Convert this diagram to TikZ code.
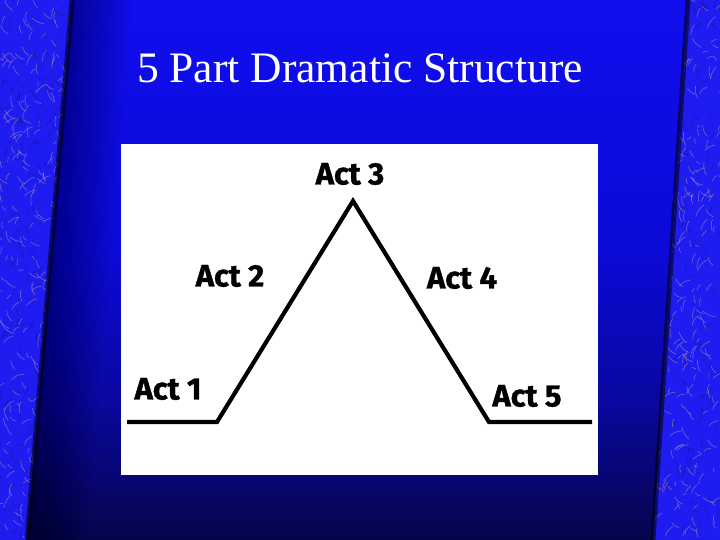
\documentclass[tikz,border=0pt]{standalone}
\usepackage{fontspec}
\setmainfont{Liberation Serif}
\newfontfamily\actfont[FakeBold=1.2]{Fira Sans}
\definecolor{bgtop}{RGB}{16,14,238}
\definecolor{bgmid}{RGB}{12,10,215}
\definecolor{bglow}{RGB}{10,8,160}
\definecolor{bgbot}{RGB}{5,5,75}
\definecolor{borderblue}{RGB}{30,28,240}
\definecolor{furtan}{RGB}{205,170,155}
\definecolor{furdark}{RGB}{20,15,120}
\pgfdeclareverticalshading{panelshade}{100bp}{color(0bp)=(bgbot); color(25bp)=(bgbot); color(38bp)=(bglow); color(52bp)=(bgmid); color(75bp)=(bgtop); color(100bp)=(bgtop)}
\begin{document}
\begin{tikzpicture}[x=1pt,y=-1pt,
  actlabel/.style={font=\actfont\bfseries\fontsize{31}{31}\selectfont, text=black, inner sep=0pt, anchor=center},
  plotline/.style={line width=4.2pt, black, line join=miter},
  fur/.style={line width=0.6pt, opacity=0.5}]
\useasboundingbox (0,0) rectangle (720,540);
% borders
\fill[borderblue] (0,0) rectangle (720,540);
\begin{scope}
  \clip (0,0) -- (72,0) -- (27,540) -- (0,540) -- cycle (688,0) -- (720,0) -- (720,540) -- (653,540) -- cycle;
  \pgfmathsetseed{11}
  \foreach \i in {1,...,260} {
    \pgfmathsetmacro{\side}{rnd}
    \pgfmathsetmacro{\yy}{540*rnd}
    \pgfmathsetmacro{\xx}{\side<0.5 ? 75*rnd : 650+70*rnd}
    \pgfmathsetmacro{\ang}{200+140*rnd}
    \draw[line width=1.2pt, opacity=0.3, furdark] (\xx,\yy) -- ++(\ang:8);
  }
  \foreach \i in {1,...,600} {
    \pgfmathsetmacro{\side}{rnd}
    \pgfmathsetmacro{\yy}{540*rnd}
    \pgfmathsetmacro{\xx}{\side<0.5 ? 75*rnd : 650+70*rnd}
    \pgfmathsetmacro{\ang}{200+140*rnd}
    \pgfmathsetmacro{\len}{4+10*rnd}
    \draw[fur, furtan] (\xx,\yy) to[bend left=20] ++(\ang:\len);
  }
\end{scope}
% central panel
\shade[shading=panelshade] (72,0) -- (688,0) -- (653,540) -- (27,540) -- cycle;
\foreach \k in {1,...,12} {
  \fill[black, opacity=0.03] (72,0) -- ++(5*\k,0) -- (27+5*\k,540) -- (27,540) -- cycle;
}
\draw[line width=5pt, black, opacity=0.55] (72,0) -- (27,540);
\draw[line width=5pt, black, opacity=0.55] (688,0) -- (653,540);
% title
\node[text=white, font=\fontsize{43.5}{43.5}\selectfont, anchor=base] (title) at (360,83) {5 Part Dramatic Structure};
% white card
\fill[white] (121,144) rectangle (598,475);
% plot line
\coordinate (p1) at (127,422);
\coordinate (p2) at (217,422);
\coordinate (p3) at (353,201);
\coordinate (p4) at (489,422);
\coordinate (p5) at (592,422);
\draw[plotline] (p1) -- (p2) -- (p3) -- (p4) -- (p5);
% labels
\node[actlabel] (a1) at (168,389) {Act 1};
\node[actlabel] (a2) at (230,276) {Act 2};
\node[actlabel] (a3) at (350,174) {Act 3};
\node[actlabel] (a4) at (462,278) {Act 4};
\node[actlabel] (a5) at (527,396) {Act 5};
\end{tikzpicture}
\end{document}
